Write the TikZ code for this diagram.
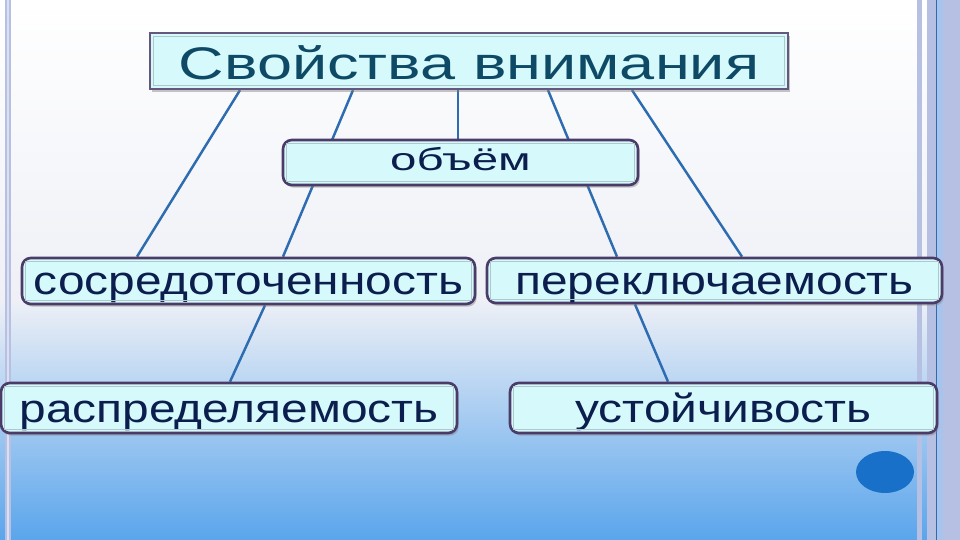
\documentclass[tikz,border=0pt]{standalone}
\usepackage{fontspec}
\setmainfont{Liberation Sans}
\usetikzlibrary{calc,shadows}
\definecolor{boxfill}{HTML}{D6FAFC}
\definecolor{boxedge}{HTML}{4A3B68}
\definecolor{boxinner}{HTML}{AFC8CC}
\definecolor{navytext}{HTML}{0B1E4E}
\definecolor{tealtext}{HTML}{0E4A66}
\definecolor{linkblue}{HTML}{2D6CB0}
\definecolor{bggray}{HTML}{EEF0F6}
\definecolor{bgmid}{HTML}{BCD9F6}
\definecolor{bgblue}{HTML}{5AA5EC}
\definecolor{bandlav}{HTML}{B6C0E2}
\definecolor{bandblue}{HTML}{A9C4EC}
\definecolor{dotblue}{HTML}{1870C8}
\pgfdeclarelayer{back}
\pgfdeclarelayer{links}
\pgfsetlayers{back,links,main}

\begin{document}
\begin{tikzpicture}[x=0.02cm,y=-0.02cm,
  prop/.style={draw=boxedge,line width=1.5pt,fill=boxfill,rounded corners=5pt,inner sep=0pt,
    text=navytext,text height=17pt,text depth=0pt,
    drop shadow={shadow xshift=1pt,shadow yshift=-1.5pt,opacity=0.45},
    font=\addfontfeature{FakeStretch=1.2}\fontsize{22.7}{27}\selectfont},
  inner/.style={draw=boxinner,line width=0.5pt},
  link/.style={draw=linkblue,line width=1.4pt}]
\useasboundingbox (0,0) rectangle (960,540);
\begin{pgfonlayer}{back}
\shade[top color=white,bottom color=bggray] (0,0) rectangle (960,300);
\shade[top color=bggray,middle color=bgmid,bottom color=bgblue] (0,300) rectangle (960,540);
\fill[bandlav] (5,0) rectangle (11,540);
\draw[white!50!bandlav,line width=0.8pt] (8,0) -- (8,540);
\fill[bandlav] (917,0) rectangle (922,540);
\fill[bandlav] (927,0) rectangle (960,540);
\fill[bandblue] (937,0) rectangle (943,540);
\draw[linkblue,line width=0.5pt] (936.5,0) -- (936.5,540);
\fill[dotblue] (885,472) ellipse [x radius=0.58cm,y radius=0.42cm];
\end{pgfonlayer}

\node[prop,rounded corners=0pt,draw=boxedge!85,line width=1.3pt,drop shadow={opacity=0},text=tealtext,
  font=\addfontfeature{FakeStretch=1.38}\fontsize{26}{30}\selectfont,text height=21.5pt,
  minimum width=12.76cm,minimum height=1.12cm] (title) at (469,61) {Свойства внимания};
\node[prop,font=\addfontfeature{FakeStretch=1.5}\fontsize{18}{22}\selectfont,text height=9pt,
  minimum width=7.1cm,minimum height=0.9cm] (obem) at (460.5,162.5) {объём};
\node[prop,text height=15.9pt,minimum width=9.06cm,minimum height=0.92cm] (sosr) at (248.5,281) {сосредоточенность};
\node[prop,text height=15.9pt,minimum width=9.1cm,minimum height=0.9cm] (perek) at (714.5,280.5) {переключаемость};
\node[prop,minimum width=9.12cm,minimum height=1.0cm] (raspr) at (229,408) {распределяемость};
\node[prop,minimum width=8.54cm,minimum height=1.0cm] (ustoi) at (723.5,408) {устойчивость};

\foreach \n in {title,obem,sosr,perek,raspr,ustoi}
\draw[inner] ($(\n.south west)+(5,-5)$) rectangle ($(\n.north east)+(-5,5)$);

\begin{pgfonlayer}{links}
\draw[link] ($(title.south)+(-229,0)$) -- ($(sosr.north)+(-111.5,0)$);
\draw[link] ($(title.south)+(-116,0)$) -- ($(sosr.north)+(34.5,0)$);
\draw[link] ($(title.south)+(-11,0)$) -- ($(obem.north)+(-2.5,0)$);
\draw[link] ($(title.south)+(79,0)$) -- ($(perek.north)+(-97.5,0)$);
\draw[link] ($(title.south)+(163,0)$) -- ($(perek.north)+(27.5,0)$);
\draw[link] ($(sosr.south)+(16.5,0)$) -- ($(raspr.north)+(1,0)$);
\draw[link] ($(perek.south)+(-79.5,0)$) -- ($(ustoi.north)+(-55.5,0)$);
\end{pgfonlayer}
\end{tikzpicture}
\end{document}
